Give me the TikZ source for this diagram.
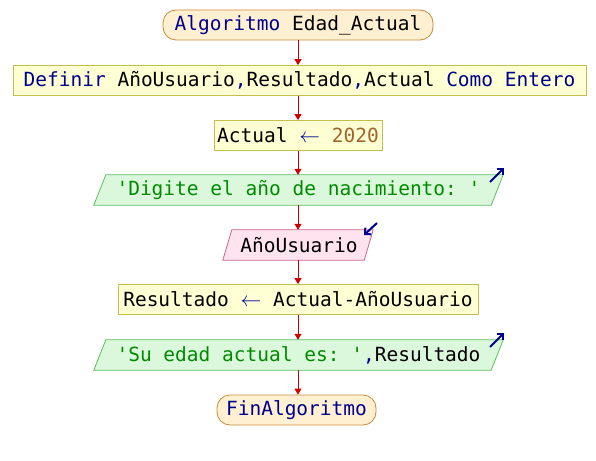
\documentclass[tikz,border=0pt]{standalone}
\usepackage{fontspec}
\setmonofont{DejaVu Sans Mono}
\usetikzlibrary{arrows.meta}
\definecolor{kw}{HTML}{000090}
\definecolor{str}{HTML}{008A00}
\definecolor{num}{HTML}{A0642A}
\definecolor{flow}{HTML}{CC0000}
\definecolor{termfill}{HTML}{FFF0D2}
\definecolor{termdraw}{HTML}{C88A3C}
\definecolor{procfill}{HTML}{FFFFD4}
\definecolor{procdraw}{HTML}{C8BE50}
\definecolor{outfill}{HTML}{DCF8DC}
\definecolor{outdraw}{HTML}{5CBE5C}
\definecolor{infill}{HTML}{FFE4F0}
\definecolor{indraw}{HTML}{C8648C}
\tikzset{
  base/.style={font=\ttfamily\fontsize{19.5}{20}\selectfont, inner sep=0pt, anchor=center},
  term/.style={base, draw=termdraw, fill=termfill, rounded corners=13pt, line width=0.8pt},
  proc/.style={base, draw=procdraw, fill=procfill, line width=0.8pt},
  iobox/.style={base},
  outshape/.style={draw=outdraw, fill=outfill, line width=0.8pt},
  inshape/.style={draw=indraw, fill=infill, line width=0.8pt},
  flowline/.style={draw=flow, line width=1pt, -{Triangle[length=6pt,width=7pt]}},
  iomark/.style={draw=kw, line width=2pt, -{Straight Barb[length=4.5pt,width=9pt]}},
}
\newcommand{\kwd}[1]{\textcolor{kw}{#1}}
\newcommand{\asgn}{\kwd{$\leftarrow$}}
\begin{document}
\begin{tikzpicture}[x=1pt,y=-1pt]
\useasboundingbox (0,0) rectangle (596,460);

% start / end terminals
\node[term, minimum width=270, minimum height=30] (start) at (298,25)
  {\kwd{Algoritmo} Edad\_Actual};

% declarations
\node[proc, minimum width=573, minimum height=30] (def) at (299.5,80.5)
  {\kwd{Definir} AñoUsuario\kwd{,}Resultado\kwd{,}Actual \kwd{Como Entero}};

% assignment of the current year
\node[proc, minimum width=168, minimum height=30] (asig1) at (298,135.5)
  {Actual \asgn{} \textcolor{num}{2020}};

% prompt output
\node[iobox, minimum width=409, minimum height=30] (out1) at (298.5,190) {};
\draw[outshape] (out1.south west) -- ([xshift=12]out1.north west) -- (out1.north east)
  -- ([xshift=-12]out1.south east) -- cycle;
\node[base, text=str] at (out1.center) {'Digite el año de nacimiento: '};
\draw[iomark] (490,182) -- (504,168);

% read input
\node[iobox, minimum width=150, minimum height=30] (in1) at (298,245) {};
\draw[inshape] (in1.south west) -- ([xshift=9]in1.north west) -- (in1.north east)
  -- ([xshift=-9]in1.south east) -- cycle;
\node[base] at ([xshift=1]in1.center) {AñoUsuario};
\draw[iomark] (377,223) -- (364,235);

% age computation
\node[proc, minimum width=360, minimum height=30] (asig2) at (298,299.5)
  {Resultado \asgn{} Actual-AñoUsuario};

% result output
\node[iobox, minimum width=409, minimum height=30] (out2) at (298.5,355) {};
\draw[outshape] (out2.south west) -- ([xshift=12]out2.north west) -- (out2.north east)
  -- ([xshift=-12]out2.south east) -- cycle;
\node[base] at (out2.center) {\textcolor{str}{'Su edad actual es: '}\kwd{,}Resultado};
\draw[iomark] (490,347) -- (504,333);

\node[term, minimum width=159, minimum height=30] (fin) at (296.5,410)
  {\kwd{FinAlgoritmo}};

% control flow
\draw[flowline] (start.south -| 298,0) -- (def.north -| 298,0);
\draw[flowline] (def.south -| 298,0) -- (asig1.north -| 298,0);
\draw[flowline] (asig1.south -| 298,0) -- (out1.north -| 298,0);
\draw[flowline] (out1.south -| 298,0) -- (in1.north -| 298,0);
\draw[flowline] (in1.south -| 298,0) -- (asig2.north -| 298,0);
\draw[flowline] (asig2.south -| 298,0) -- (out2.north -| 298,0);
\draw[flowline] (out2.south -| 298,0) -- (fin.north -| 298,0);
\end{tikzpicture}
\end{document}
